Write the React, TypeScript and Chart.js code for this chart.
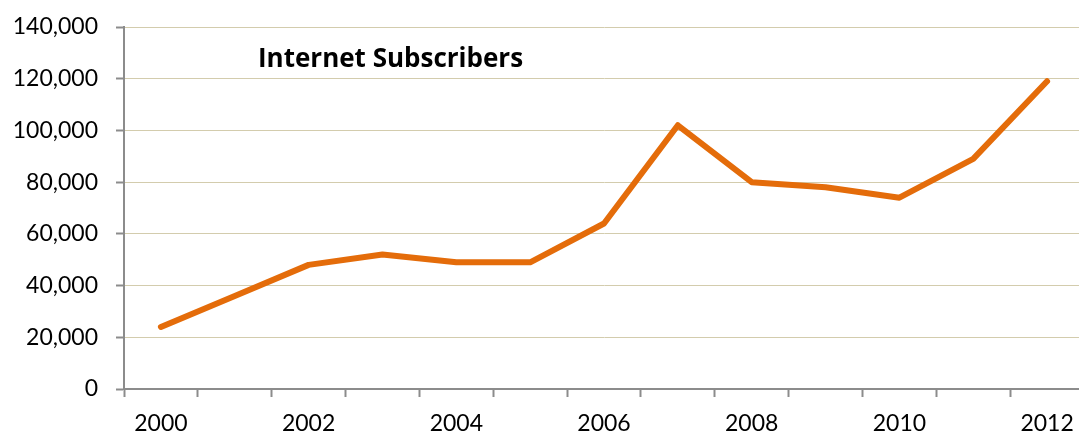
import React, { useEffect, useRef } from "react";
import { Chart, registerables } from "chart.js";

Chart.register(...registerables);

const years = ["2000","2001","2002","2003","2004","2005","2006","2007","2008","2009","2010","2011","2012"];
const subscribers = [24000, 36000, 48000, 52000, 49000, 49000, 64000, 102000, 80000, 78000, 74000, 89000, 119000];
const chartTitle = "Internet Subscribers";

const FONT = "Lato, 'Open Sans', sans-serif";
const TITLE_FONT = "'Open Sans', Lato, sans-serif";

const titlePlugin = {
  id: "innerTitle",
  afterDraw(chart: any) {
    const { ctx, chartArea } = chart;
    ctx.save();
    ctx.font = `bold 26px ${TITLE_FONT}`;
    ctx.fillStyle = "#000";
    ctx.textBaseline = "alphabetic";
    ctx.textAlign = "left";
    ctx.fillText(chartTitle, chartArea.left + 134, chartArea.top + 40);
    ctx.restore();
  },
};

export default function App() {
  const ref = useRef<HTMLCanvasElement>(null);
  useEffect(() => {
    document.body.style.margin = "0";
    const chart = new Chart(ref.current!, {
      type: "line",
      data: {
        labels: years,
        datasets: [
          {
            data: subscribers,
            borderColor: "#E46C0A",
            borderWidth: 6,
            pointRadius: 0,
            borderCapStyle: "round",
            borderJoinStyle: "round",
            tension: 0,
          },
        ],
      },
      options: {
        animation: false,
        responsive: false,
        layout: { padding: { top: 27, right: 0, left: 0, bottom: 0 } },
        plugins: { legend: { display: false }, tooltip: { enabled: false } },
        scales: {
          x: {
            offset: true,
            grid: {
              offset: true,
              drawOnChartArea: false,
              drawTicks: true,
              tickLength: 8,
              tickColor: "#8c8c8c",
              tickWidth: 2,
            },
            border: { color: "#8c8c8c", width: 2 },
            ticks: {
              autoSkip: false,
              maxRotation: 0,
              padding: 13,
              color: "#000",
              font: { family: FONT, size: 23 },
              callback: (_v: any, i: number) => (i % 2 === 0 ? years[i] : ""),
            },
            afterFit: (s: any) => { s.height = 45; s.paddingLeft = 0; s.paddingRight = 0; },
          },
          y: {
            min: 0,
            max: 140000,
            grid: {
              color: "#D3CCAD",
              lineWidth: 1,
              borderDash: [2, 2],
              drawTicks: true,
              tickLength: 8,
              tickColor: "#8c8c8c",
              tickWidth: 2,
              tickBorderDash: [],
            },
            border: { color: "#8c8c8c", width: 2 },
            ticks: {
              stepSize: 20000,
              padding: 18,
              color: "#000",
              font: { family: FONT, size: 23 },
              callback: (v: any) => Number(v).toLocaleString("en-US"),
            },
            afterFit: (s: any) => { s.width = 124; s.paddingTop = 0; s.paddingBottom = 0; },
          },
        },
      },
      plugins: [titlePlugin],
    });
    return () => chart.destroy();
  }, []);
  return (
    <div style={{ width: 1079, height: 434, overflow: "hidden" }}>
      <canvas ref={ref} width={1084} height={434} style={{ display: "block" }} />
    </div>
  );
}
